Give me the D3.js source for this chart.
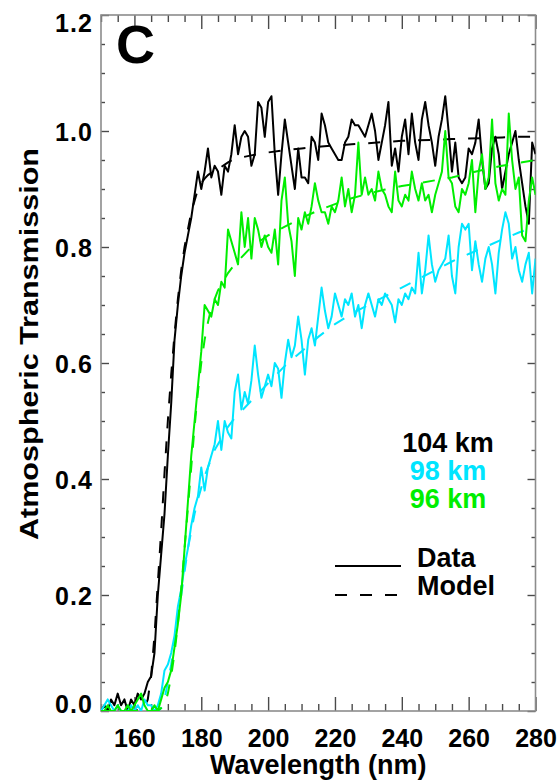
<!DOCTYPE html>
<html>
<head>
<meta charset="utf-8">
<script src="https://cdn.jsdelivr.net/npm/d3@7"></script>
<style>
  html, body { margin: 0; padding: 0; background: #fff; }
  text { font-family: "Liberation Sans", Arial, Helvetica, sans-serif; font-weight: bold; }
</style>
</head>
<body>
<svg id="chart" width="559" height="781"></svg>
<script>
// Measured spectra: wavelength grid (nm) and transmission at three tangent altitudes
const wavelength = [
  150,151,152,153,154,155,156,157,158,159,160,161,162,163,164,165,166,167,168,169,
  170,171,172,173,174,175,176,177,178,179,180,181,182,183,184,185,186,187,188,189,
  190,191,192,193,194,195,196,197,198,199,200,201,202,203,204,205,206,207,208,209,
  210,211,212,213,214,215,216,217,218,219,220,221,222,223,224,225,226,227,228,229,
  230,231,232,233,234,235,236,237,238,239,240,241,242,243,244,245,246,247,248,249,
  250,251,252,253,254,255,256,257,258,259,260,261,262,263,264,265,266,267,268,269,
  270,271,272,273,274,275,276,277,278,279,280
];

const data104 = [
  0.00,0.01,0.00,0.02,0.01,0.03,0.01,0.02,0.00,0.02,0.01,0.03,0.02,0.03,0.05,0.06,0.10,0.20,0.27,0.34,
  0.44,0.53,0.64,0.70,0.75,0.79,0.82,0.85,0.89,0.93,0.90,0.93,0.97,0.92,0.94,0.93,0.89,0.94,0.93,0.96,
  1.01,0.96,0.99,1.00,0.99,0.94,0.96,1.05,1.04,0.99,1.05,1.06,0.96,0.89,0.96,1.02,0.98,0.94,0.90,0.97,
  0.92,0.92,0.91,0.99,0.98,0.95,1.03,1.01,0.98,0.97,0.96,0.95,0.95,0.98,0.99,1.02,1.01,1.01,1.00,0.99,
  1.01,1.03,1.00,0.95,0.98,1.01,1.05,0.94,0.97,0.93,0.99,1.02,0.96,1.03,0.98,0.95,1.02,1.05,1.01,0.98,
  0.94,0.99,1.02,1.06,1.00,0.93,0.98,0.92,0.91,0.92,0.97,0.96,0.98,1.02,0.95,0.90,0.91,0.97,0.99,0.96,
  0.90,0.93,0.96,0.98,1.00,0.95,0.91,0.87,0.84,0.98,0.96
];

const data98 = [
  0.00,0.01,0.02,0.01,0.00,0.01,0.00,0.00,0.00,0.01,0.00,0.01,0.00,0.02,0.01,0.01,0.00,0.01,0.03,0.07,
  0.08,0.10,0.13,0.18,0.21,0.25,0.28,0.32,0.35,0.37,0.42,0.38,0.42,0.44,0.46,0.50,0.45,0.50,0.48,0.47,
  0.55,0.58,0.52,0.55,0.53,0.57,0.63,0.58,0.54,0.56,0.58,0.56,0.60,0.59,0.54,0.60,0.64,0.61,0.63,0.68,
  0.64,0.58,0.64,0.66,0.63,0.68,0.73,0.69,0.66,0.68,0.72,0.70,0.68,0.71,0.70,0.72,0.68,0.70,0.66,0.70,
  0.72,0.70,0.68,0.71,0.70,0.72,0.71,0.70,0.67,0.71,0.70,0.72,0.71,0.73,0.72,0.79,0.72,0.76,0.82,0.77,
  0.74,0.76,0.77,0.78,0.82,0.75,0.72,0.80,0.84,0.83,0.84,0.76,0.81,0.77,0.74,0.78,0.80,0.77,0.72,0.79,
  0.83,0.86,0.84,0.78,0.80,0.76,0.74,0.77,0.79,0.72,0.78
];

const data96 = [
  0.00,0.00,0.01,0.00,0.00,0.01,0.00,0.00,0.01,0.00,0.01,0.02,0.03,0.01,0.00,0.00,0.01,0.00,0.02,0.04,
  0.05,0.07,0.11,0.15,0.20,0.28,0.36,0.44,0.50,0.56,0.62,0.70,0.69,0.68,0.71,0.70,0.74,0.73,0.83,0.81,
  0.79,0.77,0.86,0.80,0.85,0.78,0.85,0.83,0.80,0.82,0.80,0.79,0.83,0.77,0.88,0.92,0.84,0.81,0.75,0.85,
  0.83,0.86,0.84,0.87,0.91,0.88,0.86,0.86,0.84,0.87,0.86,0.88,0.92,0.87,0.90,0.86,0.89,0.98,0.89,0.92,
  0.89,0.90,0.88,0.93,0.90,0.89,0.87,0.86,0.93,0.88,0.87,0.89,0.88,0.93,0.90,0.88,0.91,0.88,0.89,0.86,
  0.89,0.91,0.93,1.00,0.92,0.91,0.87,0.86,0.90,0.89,0.91,0.95,0.86,0.93,0.96,0.90,0.92,1.02,0.91,0.88,
  0.90,0.89,1.03,0.95,0.90,0.92,0.82,0.81,0.88,0.92,0.89
];

// Model transmission on its own wavelength grid
const modelWavelength = [
  150,155,160,163,164,165,166,167,168,169,170,171,172,173,174,175,176,177,178,179,
  180,181,182,183,184,185,186,188,190,195,200,205,210,215,220,225,230,235,240,245,
  250,255,260,265,270,275,280
];
const model104 = [
  0,0,0,0.005,0.02,0.06,0.13,0.22,0.31,0.41,0.50,0.58,0.65,0.71,0.76,0.80,0.83,0.86,0.88,0.90,
  0.91,0.918,0.924,0.928,0.932,0.935,0.938,0.946,0.952,0.958,0.963,0.967,0.970,0.973,0.975,0.977,0.979,0.981,0.983,0.984,
  0.985,0.986,0.987,0.988,0.989,0.990,0.990
];
const model98 = [
  0,0,0,0,0,0,0,0,0.005,0.02,0.05,0.08,0.12,0.16,0.20,0.24,0.28,0.31,0.34,0.365,
  0.385,0.405,0.42,0.435,0.45,0.46,0.47,0.49,0.505,0.535,0.565,0.595,0.62,0.645,0.667,0.685,0.70,0.715,0.73,0.745,
  0.76,0.775,0.788,0.80,0.813,0.825,0.835
];
const model96 = [
  0,0,0,0,0,0,0,0,0.005,0.01,0.03,0.06,0.10,0.15,0.21,0.28,0.35,0.42,0.49,0.55,
  0.60,0.64,0.67,0.695,0.71,0.725,0.735,0.755,0.77,0.80,0.82,0.835,0.85,0.863,0.874,0.884,0.892,0.899,0.905,0.91,
  0.915,0.92,0.927,0.934,0.94,0.945,0.95
];

const altitudeLabels = ["104 km", "98 km", "96 km"];
const seriesColors = ["#000000", "#00e5ff", "#00ee00"];
const xMajorTicks = [160, 180, 200, 220, 240, 260, 280];
const yMajorTicks = [0.0, 0.2, 0.4, 0.6, 0.8, 1.0, 1.2];

const svg = d3.select("#chart");
const plot = { left: 101, right: 535.5, top: 15, bottom: 711 };

const x = d3.scaleLinear().domain([150, 280]).range([plot.left, plot.right]);
const y = d3.scaleLinear().domain([0, 1.2]).range([plot.bottom, plot.top]);

const xMinor = d3.range(150, 281, 5).filter(v => xMajorTicks.indexOf(v) < 0);
const yMinor = d3.range(0, 25).map(i => +(i * 0.05).toFixed(2)).filter(v => !yMajorTicks.some(t => Math.abs(t - v) < 1e-6));

const tickColor = "#4a4a4a";
function styleAxis(g) {
  g.select(".domain").remove();
  g.selectAll(".tick line").attr("stroke", tickColor).attr("stroke-width", 1.4);
}

// Bottom axis (ticks point inward)
svg.append("g").attr("transform", `translate(0,${plot.bottom})`)
  .call(d3.axisBottom(x).tickValues(xMinor).tickSize(-7).tickFormat(""))
  .call(styleAxis);
const xAxisMajor = svg.append("g").attr("transform", `translate(0,${plot.bottom})`)
  .call(d3.axisBottom(x).tickValues(xMajorTicks).tickSize(-14).tickFormat(d3.format("d")))
  .call(styleAxis);
xAxisMajor.selectAll(".tick text")
  .attr("y", 36).attr("dy", 0)
  .attr("fill", "#000").style("font-size", "25px").style("font-weight", "bold")
  .style("font-family", '"Liberation Sans", Arial, sans-serif');

// Top axis mirror
svg.append("g").attr("transform", `translate(0,${plot.top})`)
  .call(d3.axisTop(x).tickValues(xMinor).tickSize(-7).tickFormat(""))
  .call(styleAxis);
svg.append("g").attr("transform", `translate(0,${plot.top})`)
  .call(d3.axisTop(x).tickValues(xMajorTicks).tickSize(-14).tickFormat(""))
  .call(styleAxis);

// Left axis
svg.append("g").attr("transform", `translate(${plot.left},0)`)
  .call(d3.axisLeft(y).tickValues(yMinor).tickSize(-4).tickFormat(""))
  .call(styleAxis);
const yAxisMajor = svg.append("g").attr("transform", `translate(${plot.left},0)`)
  .call(d3.axisLeft(y).tickValues(yMajorTicks).tickSize(-8).tickFormat(d3.format(".1f")))
  .call(styleAxis);
yAxisMajor.selectAll(".tick text")
  .attr("x", -9)
  .attr("dy", 0)
  .attr("y", d => d === 0 ? 1 : (d === 1.2 ? 16 : 9))
  .attr("textLength", 37).attr("lengthAdjust", "spacing")
  .attr("fill", "#000").style("font-size", "25px").style("font-weight", "bold")
  .style("font-family", '"Liberation Sans", Arial, sans-serif');

// Right axis mirror
svg.append("g").attr("transform", `translate(${plot.right},0)`)
  .call(d3.axisRight(y).tickValues(yMinor).tickSize(-4).tickFormat(""))
  .call(styleAxis);
svg.append("g").attr("transform", `translate(${plot.right},0)`)
  .call(d3.axisRight(y).tickValues(yMajorTicks).tickSize(-8).tickFormat(""))
  .call(styleAxis);

// Plot frame
svg.append("rect")
  .attr("x", plot.left).attr("y", plot.top)
  .attr("width", plot.right - plot.left).attr("height", plot.bottom - plot.top)
  .attr("fill", "none").attr("stroke", "#8c8c8c").attr("stroke-width", 1.6);

// Curves: clip to the frame
svg.append("clipPath").attr("id", "plotClip")
  .append("rect").attr("x", plot.left).attr("y", plot.top)
  .attr("width", plot.right - plot.left).attr("height", plot.bottom - plot.top);

const curves = svg.append("g").attr("clip-path", "url(#plotClip)");
const line = d3.line().x(d => x(d[0])).y(d => y(d[1]));

const series = [
  { data: data104, model: model104, color: seriesColors[0] },
  { data: data98,  model: model98,  color: seriesColors[1] },
  { data: data96,  model: model96,  color: seriesColors[2] }
];

series.forEach(s => {
  curves.append("path")
    .attr("d", line(wavelength.map((w, i) => [w, s.data[i]])))
    .attr("fill", "none").attr("stroke", s.color)
    .attr("stroke-width", 2).attr("stroke-linejoin", "round");
  curves.append("path")
    .attr("d", line(modelWavelength.map((w, i) => [w, s.model[i]])))
    .attr("fill", "none").attr("stroke", s.color)
    .attr("stroke-width", 2).attr("stroke-dasharray", "12,13");
});

// Panel letter
svg.append("text").attr("x", 116).attr("y", 63)
  .style("font-size", "54px").attr("fill", "#000").text("C");

// Axis titles
svg.append("text")
  .attr("x", (plot.left + plot.right) / 2).attr("y", 774)
  .attr("text-anchor", "middle").style("font-size", "27px").attr("fill", "#000")
  .text("Wavelength (nm)");

svg.append("text")
  .attr("transform", "translate(38,344) rotate(-90)")
  .attr("text-anchor", "middle").style("font-size", "26px").attr("fill", "#000")
  .attr("textLength", 392).attr("lengthAdjust", "spacingAndGlyphs")
  .text("Atmospheric Transmission");

// Altitude legend
const altY = [452, 480, 508];
altitudeLabels.forEach((lab, i) => {
  svg.append("text").attr("x", 448).attr("y", altY[i])
    .attr("text-anchor", "middle").style("font-size", "27px")
    .attr("fill", seriesColors[i]).text(lab);
});

// Line-style legend
svg.append("line").attr("x1", 335).attr("x2", 401).attr("y1", 566).attr("y2", 566)
  .attr("stroke", "#000").attr("stroke-width", 2);
svg.append("line").attr("x1", 335).attr("x2", 401).attr("y1", 595).attr("y2", 595)
  .attr("stroke", "#000").attr("stroke-width", 2).attr("stroke-dasharray", "12,13");
svg.append("text").attr("x", 417).attr("y", 567).style("font-size", "27px").attr("fill", "#000").text("Data");
svg.append("text").attr("x", 417).attr("y", 595).style("font-size", "27px").attr("fill", "#000").text("Model");
</script>
</body>
</html>
